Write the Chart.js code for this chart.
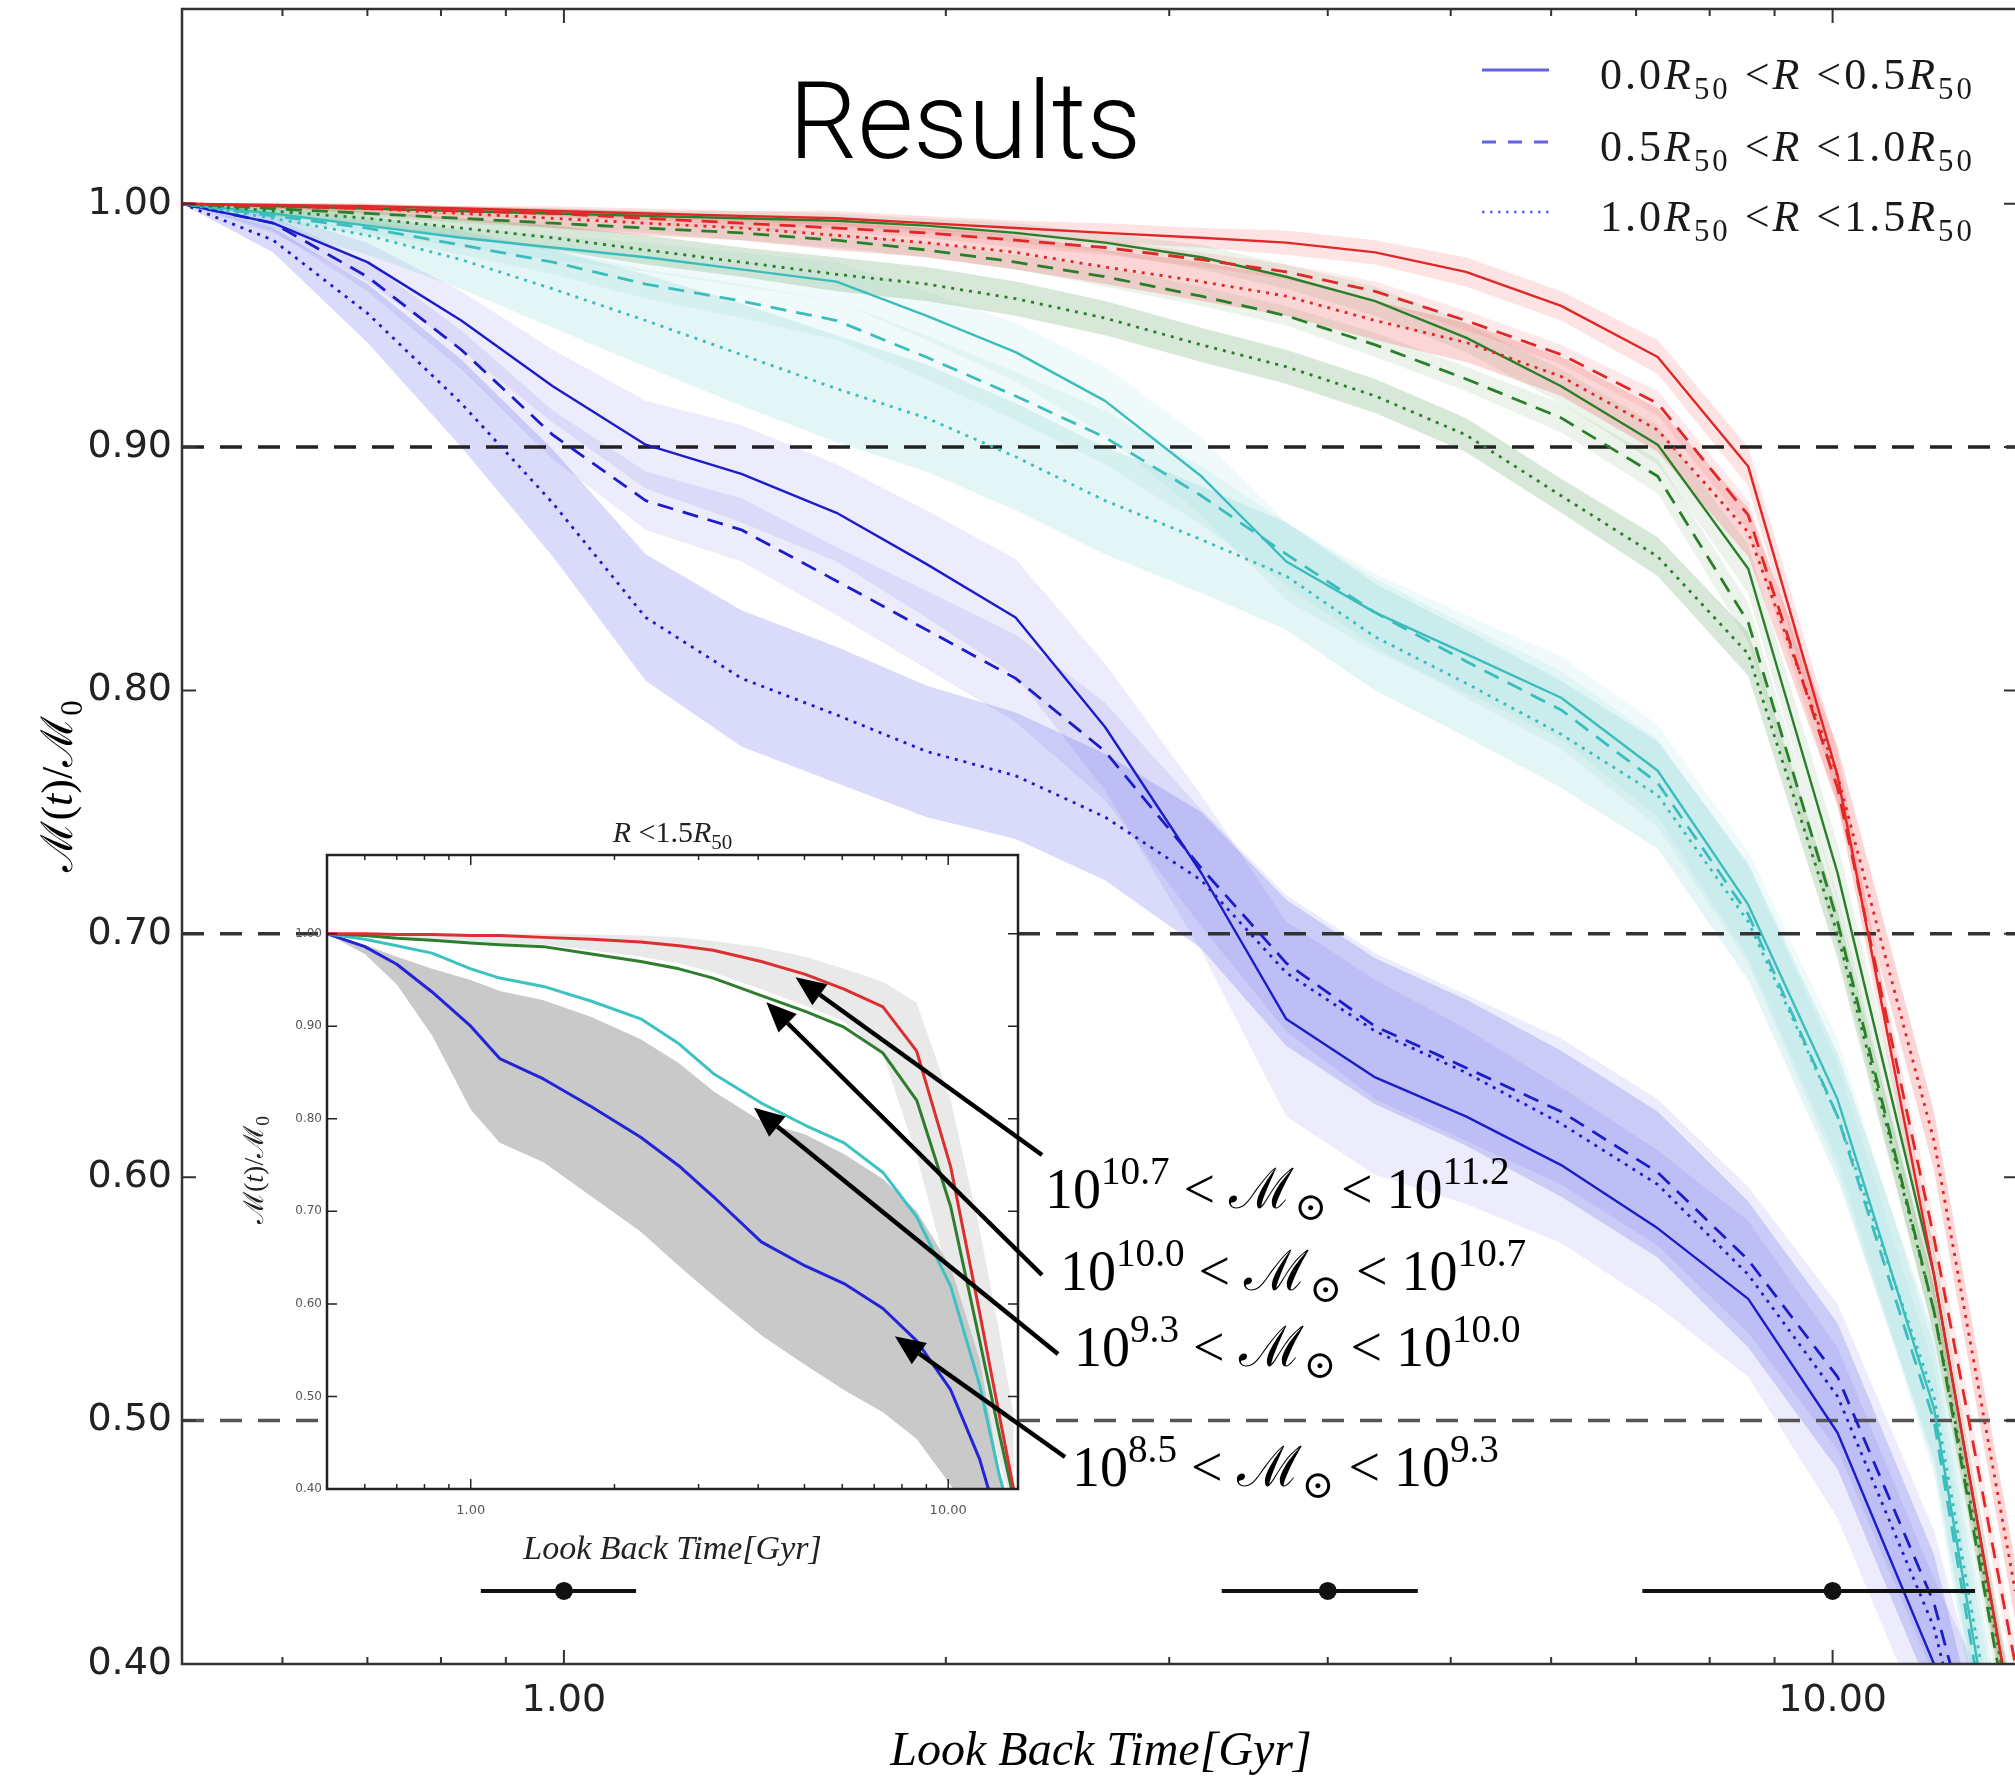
<!DOCTYPE html>
<html lang="en">
<head>
<meta charset="utf-8">
<title>Stellar mass growth with look back time</title>
<script src="https://cdn.jsdelivr.net/npm/chart.js@4.4.1/dist/chart.umd.min.js"></script>
<style>
  html, body { margin: 0; padding: 0; background: #fff; overflow: hidden; }
  #wrap { position: relative; width: 2015px; height: 1780px; overflow: hidden; }
  #main { position: absolute; left: 0; top: 0; }
  #inset { position: absolute; left: 200px; top: 800px; }
</style>
</head>
<body>
<div id="wrap">
  <canvas id="main" width="2040" height="1780"></canvas>
  <canvas id="inset" width="900" height="790"></canvas>
</div>
<script>
const SERIF = "'Liberation Serif', 'DejaVu Serif', serif";
const SANS = "'DejaVu Sans', sans-serif";

// Look back time grid (Gyr) for the main panel
const lookbackTime = [0.50, 0.59, 0.70, 0.83, 0.98, 1.16, 1.38, 1.64, 1.93, 2.27, 2.67, 3.18, 3.71, 4.36, 5.14, 6.11, 7.28, 8.58, 10.09, 12.02, 13.93];

// M(t)/M0 per mass bin, three radial bins each (inner / middle / outer)
const blueInner = [1.000, 0.992, 0.976, 0.952, 0.925, 0.901, 0.889, 0.873, 0.852, 0.830, 0.785, 0.725, 0.665, 0.641, 0.625, 0.605, 0.579, 0.550, 0.495, 0.400, 0.330];
const blueMid   = [1.000, 0.992, 0.970, 0.940, 0.905, 0.878, 0.866, 0.845, 0.825, 0.805, 0.775, 0.727, 0.688, 0.662, 0.645, 0.627, 0.602, 0.566, 0.518, 0.425, 0.300];
const blueOuter = [1.000, 0.985, 0.955, 0.918, 0.877, 0.830, 0.805, 0.790, 0.775, 0.765, 0.748, 0.722, 0.684, 0.660, 0.643, 0.622, 0.597, 0.560, 0.510, 0.415, 0.280];

const cyanInner = [1.000, 0.996, 0.991, 0.986, 0.982, 0.978, 0.973, 0.968, 0.954, 0.939, 0.919, 0.888, 0.853, 0.832, 0.815, 0.797, 0.767, 0.712, 0.632, 0.505, 0.310];
const cyanMid   = [1.000, 0.995, 0.990, 0.983, 0.976, 0.967, 0.960, 0.952, 0.937, 0.921, 0.904, 0.880, 0.856, 0.832, 0.812, 0.792, 0.762, 0.708, 0.625, 0.500, 0.300];
const cyanOuter = [1.000, 0.994, 0.987, 0.977, 0.965, 0.952, 0.938, 0.924, 0.912, 0.896, 0.878, 0.862, 0.847, 0.822, 0.803, 0.782, 0.757, 0.705, 0.625, 0.510, 0.320];

const greenInner = [1.000, 0.999, 0.998, 0.997, 0.996, 0.995, 0.994, 0.993, 0.991, 0.988, 0.984, 0.978, 0.970, 0.960, 0.945, 0.925, 0.901, 0.850, 0.725, 0.560, 0.370];
const greenMid   = [1.000, 0.998, 0.996, 0.994, 0.992, 0.990, 0.988, 0.985, 0.981, 0.976, 0.970, 0.962, 0.954, 0.942, 0.928, 0.912, 0.888, 0.828, 0.705, 0.545, 0.360];
const greenOuter = [1.000, 0.997, 0.994, 0.990, 0.986, 0.981, 0.976, 0.971, 0.967, 0.961, 0.953, 0.942, 0.933, 0.921, 0.905, 0.880, 0.855, 0.815, 0.700, 0.545, 0.370];

const redInner = [1.000, 0.9995, 0.999, 0.998, 0.997, 0.996, 0.995, 0.994, 0.992, 0.990, 0.988, 0.986, 0.984, 0.980, 0.972, 0.958, 0.937, 0.892, 0.765, 0.560, 0.370];
const redMid   = [1.000, 0.999, 0.998, 0.997, 0.996, 0.994, 0.992, 0.990, 0.988, 0.985, 0.982, 0.977, 0.972, 0.964, 0.952, 0.938, 0.918, 0.872, 0.760, 0.575, 0.400];
const redOuter = [1.000, 0.999, 0.998, 0.996, 0.994, 0.992, 0.990, 0.987, 0.984, 0.980, 0.974, 0.968, 0.962, 0.952, 0.943, 0.929, 0.907, 0.865, 0.765, 0.615, 0.430];

// half widths of the shaded scatter around each curve
const blueInnerBand = [0, 0.004, 0.008, 0.012, 0.015, 0.018, 0.020, 0.020, 0.022, 0.024, 0.026, 0.032, 0.040, 0.040, 0.036, 0.032, 0.032, 0.032, 0.035, 0.035, 0.035];
const blueMidBand   = [0, 0.003, 0.006, 0.008, 0.010, 0.012, 0.013, 0.014, 0.016, 0.018, 0.020, 0.024, 0.028, 0.030, 0.030, 0.030, 0.030, 0.030, 0.030, 0.030, 0.030];
const blueOuterBand = [0, 0.005, 0.012, 0.018, 0.022, 0.026, 0.028, 0.028, 0.027, 0.026, 0.026, 0.028, 0.030, 0.030, 0.030, 0.030, 0.030, 0.030, 0.030, 0.030, 0.030];
const cyanInnerBand = [0, 0.002, 0.003, 0.004, 0.005, 0.006, 0.007, 0.008, 0.010, 0.012, 0.014, 0.016, 0.016, 0.016, 0.016, 0.017, 0.019, 0.022, 0.025, 0.025, 0.025];
const cyanMidBand   = [0, 0.002, 0.003, 0.004, 0.005, 0.006, 0.007, 0.008, 0.009, 0.010, 0.011, 0.012, 0.013, 0.014, 0.015, 0.016, 0.018, 0.020, 0.022, 0.022, 0.022];
const cyanOuterBand = [0, 0.004, 0.008, 0.012, 0.016, 0.019, 0.021, 0.022, 0.022, 0.022, 0.022, 0.022, 0.022, 0.022, 0.022, 0.022, 0.022, 0.024, 0.026, 0.026, 0.026];
const greenInnerBand = [0, 0.001, 0.001, 0.002, 0.002, 0.002, 0.003, 0.003, 0.003, 0.004, 0.004, 0.005, 0.005, 0.006, 0.006, 0.007, 0.008, 0.010, 0.012, 0.012, 0.012];
const greenMidBand   = [0, 0.001, 0.001, 0.002, 0.002, 0.002, 0.003, 0.003, 0.003, 0.003, 0.004, 0.004, 0.004, 0.005, 0.005, 0.006, 0.007, 0.008, 0.010, 0.010, 0.010];
const greenOuterBand = [0, 0.002, 0.003, 0.004, 0.005, 0.006, 0.006, 0.007, 0.007, 0.007, 0.007, 0.007, 0.007, 0.007, 0.007, 0.007, 0.008, 0.009, 0.010, 0.010, 0.010];
const redInnerBand = [0, 0.001, 0.001, 0.001, 0.002, 0.002, 0.002, 0.003, 0.003, 0.003, 0.004, 0.004, 0.005, 0.005, 0.006, 0.006, 0.007, 0.008, 0.010, 0.010, 0.010];
const redMidBand   = [0, 0.001, 0.001, 0.001, 0.001, 0.002, 0.002, 0.002, 0.002, 0.003, 0.003, 0.003, 0.003, 0.004, 0.004, 0.004, 0.005, 0.006, 0.008, 0.008, 0.008];
const redOuterBand = [0, 0.001, 0.002, 0.003, 0.004, 0.005, 0.005, 0.006, 0.006, 0.007, 0.007, 0.008, 0.008, 0.008, 0.008, 0.008, 0.009, 0.010, 0.012, 0.012, 0.012];

// horizontal reference levels and the time error bars along the bottom
const refLevels = [0.9, 0.7, 0.5];
const errTime = [1.0, 4.0, 10.0];
const errLow = [0.86, 3.30, 7.08];
const errHigh = [1.14, 4.71, 12.95];
const errLevel = 0.43;

// axis ticks
const xMajorTicks = [1, 10];
const xMinorTicks = [0.6, 0.7, 0.8, 0.9, 2, 3, 4, 5, 6, 7, 8, 9];
const yTicks = [0.4, 0.5, 0.6, 0.7, 0.8, 0.9, 1.0];

// bin edges used in the labels
const radialEdges = ['0.0', '0.5', '1.0', '1.5'];
const massEdges = ['8.5', '9.3', '10.0', '10.7', '11.2'];

// inset: all galaxies within 1.5 R50
const insetTime = [0.50, 0.60, 0.70, 0.83, 1.00, 1.15, 1.42, 1.79, 2.27, 2.73, 3.22, 4.06, 5.02, 6.05, 7.30, 8.59, 10.12, 11.64, 12.79, 13.71];
const insetBlue  = [1.000, 0.986, 0.967, 0.937, 0.900, 0.865, 0.843, 0.813, 0.780, 0.749, 0.716, 0.667, 0.641, 0.622, 0.595, 0.560, 0.507, 0.432, 0.360, 0.300];
const insetCyan  = [1.000, 0.994, 0.987, 0.979, 0.962, 0.952, 0.943, 0.927, 0.908, 0.881, 0.849, 0.817, 0.793, 0.774, 0.742, 0.694, 0.619, 0.512, 0.415, 0.360];
const insetGreen = [1.000, 0.998, 0.995, 0.993, 0.990, 0.988, 0.986, 0.978, 0.970, 0.962, 0.952, 0.933, 0.916, 0.899, 0.871, 0.820, 0.705, 0.560, 0.460, 0.390];
const insetRed   = [1.000, 1.000, 0.999, 0.999, 0.998, 0.998, 0.996, 0.994, 0.991, 0.987, 0.982, 0.970, 0.956, 0.940, 0.921, 0.873, 0.748, 0.590, 0.480, 0.400];
const insetGrayLow  = [1.000, 0.978, 0.945, 0.890, 0.810, 0.774, 0.753, 0.716, 0.678, 0.641, 0.609, 0.566, 0.534, 0.507, 0.483, 0.454, 0.404, 0.360, 0.350, 0.350];
const insetGrayHigh = [1.000, 0.988, 0.975, 0.962, 0.950, 0.938, 0.928, 0.910, 0.886, 0.860, 0.830, 0.797, 0.783, 0.762, 0.735, 0.700, 0.640, 0.540, 0.420, 0.360];
const insetPaleLow  = [1.000, 0.998, 0.996, 0.994, 0.992, 0.990, 0.988, 0.982, 0.975, 0.968, 0.958, 0.940, 0.922, 0.905, 0.870, 0.760, 0.620, 0.520, 0.430, 0.380];
const insetPaleHigh = [1.000, 1.000, 1.000, 1.000, 1.000, 1.000, 1.000, 0.999, 0.998, 0.996, 0.992, 0.985, 0.975, 0.962, 0.948, 0.925, 0.820, 0.680, 0.570, 0.480];

// where the annotation arrows point on the inset curves
const arrowTipTime = [4.79, 4.16, 3.92, 7.73];
const arrowTipValue = [0.953, 0.926, 0.812, 0.565];

// page positions of the free text
const layout = {
  insetLeft: 200, insetTop: 800,
  labelAnchors: [[1045, 1208], [1060, 1290], [1074, 1366], [1072, 1486]],
  arrowTails: [[1042, 1155], [1042, 1275], [1058, 1354], [1065, 1457]],
};

const radialStyles = [
  { dash: [], width: 2.4 },
  { dash: [16, 10], width: 2.8 },
  { dash: [3, 6], width: 2.8 },
];

const massBins = [
  { line: '#1c1cc8', band: '70, 70, 230', alpha: [0.10, 0.10, 0.20],
    values: [blueInner, blueMid, blueOuter], spread: [blueInnerBand, blueMidBand, blueOuterBand] },
  { line: '#3cbdbd', band: '70, 190, 185', alpha: [0.08, 0.08, 0.15],
    values: [cyanInner, cyanMid, cyanOuter], spread: [cyanInnerBand, cyanMidBand, cyanOuterBand] },
  { line: '#2a7f2a', band: '60, 140, 60', alpha: [0.10, 0.10, 0.20],
    values: [greenInner, greenMid, greenOuter], spread: [greenInnerBand, greenMidBand, greenOuterBand] },
  { line: '#e02828', band: '240, 70, 70', alpha: [0.15, 0.12, 0.22],
    values: [redInner, redMid, redOuter], spread: [redInnerBand, redMidBand, redOuterBand] },
];

const points = (xs, ys) => xs.map((t, i) => ({ x: t, y: ys[i] }));

// Build the main datasets: bands underneath, then reference lines, curves, error bars
const mainDatasets = [];
function addBand(list, xs, lo, hi, color, order) {
  const upperIndex = list.length;
  list.push({ data: points(xs, hi), borderWidth: 0, borderColor: 'rgba(0,0,0,0)', pointRadius: 0, fill: false, order });
  list.push({ data: points(xs, lo), borderWidth: 0, borderColor: 'rgba(0,0,0,0)', pointRadius: 0,
              fill: upperIndex, backgroundColor: color, order });
}

massBins.forEach((bin, k) => {
  bin.values.forEach((vals, r) => {
    const lo = vals.map((v, i) => v - bin.spread[r][i]);
    const hi = vals.map((v, i) => v + bin.spread[r][i]);
    addBand(mainDatasets, lookbackTime, lo, hi, `rgba(${bin.band}, ${bin.alpha[r]})`, 40 - k);
  });
});

const refColors = ['#222', '#333', '#555'];
refLevels.forEach((lvl, i) => {
  mainDatasets.push({
    data: [{ x: 0.5, y: lvl }, { x: 14, y: lvl }],
    borderColor: refColors[i], borderWidth: 3.5, borderDash: [22, 16],
    pointRadius: 0, fill: false, order: 20,
  });
});

massBins.forEach((bin, k) => {
  bin.values.forEach((vals, r) => {
    mainDatasets.push({
      data: points(lookbackTime, vals),
      borderColor: bin.line, borderWidth: radialStyles[r].width, borderDash: radialStyles[r].dash,
      borderJoinStyle: 'round', pointRadius: 0, fill: false, tension: 0, order: 10 - k,
    });
  });
});

errTime.forEach((t, i) => {
  mainDatasets.push({
    data: [{ x: errLow[i], y: errLevel }, { x: errHigh[i], y: errLevel }],
    borderColor: '#111', borderWidth: 4, pointRadius: 0, fill: false, order: 0,
  });
});
mainDatasets.push({
  data: errTime.map(t => ({ x: t, y: errLevel })),
  showLine: false, pointRadius: 9, pointBackgroundColor: '#111', pointBorderWidth: 0, order: 0,
});

// Inset datasets
const insetDatasets = [];
addBand(insetDatasets, insetTime, insetPaleLow, insetPaleHigh, '#e9e9e9', 6);
addBand(insetDatasets, insetTime, insetGrayLow, insetGrayHigh, '#c9c9c9', 5);
[[insetBlue, '#2323d8'], [insetCyan, '#3cc2c2'], [insetGreen, '#2e7d2e'], [insetRed, '#dc3030']].forEach(([vals, color], k) => {
  insetDatasets.push({
    data: points(insetTime, vals), borderColor: color, borderWidth: 3,
    borderJoinStyle: 'round', pointRadius: 0, fill: false, tension: 0, order: 4 - k,
  });
});

// ---- drawing helpers ----
function drawRich(ctx, parts, x, y, size, family, align) {
  const fontFor = kind => {
    const s = (kind === 'sub' || kind === 'sup') ? size * 0.7 : size;
    return (kind === 'i' ? 'italic ' : '') + s + 'px ' + family;
  };
  let total = 0;
  parts.forEach(([text, kind]) => { ctx.font = fontFor(kind); total += ctx.measureText(text).width; });
  let cx = align === 'center' ? x - total / 2 : x;
  ctx.textAlign = 'left';
  parts.forEach(([text, kind]) => {
    ctx.font = fontFor(kind);
    const dy = kind === 'sub' ? size * 0.22 : kind === 'sup' ? -size * 0.42 : 0;
    ctx.fillText(text, cx, y + dy);
    cx += ctx.measureText(text).width;
  });
}

function drawArrow(ctx, x0, y0, x1, y1, width, head, headW) {
  const ang = Math.atan2(y1 - y0, x1 - x0);
  const bx = x1 - head * Math.cos(ang), by = y1 - head * Math.sin(ang);
  ctx.lineWidth = width;
  ctx.beginPath(); ctx.moveTo(x0, y0); ctx.lineTo(bx, by); ctx.stroke();
  ctx.beginPath();
  ctx.moveTo(x1, y1);
  ctx.lineTo(bx + headW / 2 * Math.sin(ang), by - headW / 2 * Math.cos(ang));
  ctx.lineTo(bx - headW / 2 * Math.sin(ang), by + headW / 2 * Math.cos(ang));
  ctx.closePath(); ctx.fill();
}

const radialLabel = i => [[radialEdges[i], ''], ['R', 'i'], ['50', 'sub'], [' <', ''], ['R', 'i'],
  [' <' + radialEdges[i + 1], ''], ['R', 'i'], ['50', 'sub']];
const massLabel = i => [['10', ''], [massEdges[i], 'sup'], [' < ', ''], ['ℳ', ''], ['⊙', 'sub'],
  [' < 10', ''], [massEdges[i + 1], 'sup']];
const massRatio = [['ℳ', ''], ['(', ''], ['t', 'i'], [')/', ''], ['ℳ', ''], ['0', 'sub']];

// Frame on all four sides with inward ticks
const frameAndTicks = {
  id: 'frameAndTicks',
  afterDatasetsDraw(chart, args, opts) {
    const { ctx, chartArea: a, scales: { x, y } } = chart;
    ctx.save();
    ctx.strokeStyle = opts.color;
    ctx.lineWidth = opts.tickWidth;
    ctx.beginPath();
    const xTick = (v, len) => {
      const px = x.getPixelForValue(v);
      ctx.moveTo(px, a.bottom); ctx.lineTo(px, a.bottom - len);
      ctx.moveTo(px, a.top); ctx.lineTo(px, a.top + len);
    };
    xMajorTicks.forEach(v => xTick(v, opts.major));
    xMinorTicks.forEach(v => xTick(v, opts.minor));
    yTicks.forEach(v => {
      const py = y.getPixelForValue(v);
      ctx.moveTo(a.left, py); ctx.lineTo(a.left + opts.major, py);
      ctx.moveTo(a.right, py); ctx.lineTo(a.right - opts.major, py);
    });
    ctx.stroke();
    ctx.lineWidth = opts.frameWidth;
    ctx.strokeRect(a.left, a.top, a.right - a.left, a.bottom - a.top);
    ctx.restore();
  }
};

// Title, legend, axis titles and the mass bin labels of the main panel
const mainText = {
  id: 'mainText',
  afterDraw(chart) {
    const { ctx } = chart;
    ctx.save();
    ctx.fillStyle = '#000';
    ctx.textBaseline = 'alphabetic';

    ctx.font = "300 108px Roboto, 'Liberation Sans', sans-serif";
    ctx.textAlign = 'center';
    ctx.fillText('Results', 965, 158);

    // legend for the radial bins
    const rows = [70, 142, 212];
    rows.forEach((ly, i) => {
      ctx.strokeStyle = 'rgba(70, 70, 215, 0.85)';
      ctx.lineWidth = i === 2 ? 2.5 : 3;
      ctx.setLineDash(i === 0 ? [] : i === 1 ? [14, 12] : [2.5, 5.5]);
      ctx.beginPath(); ctx.moveTo(1482, ly); ctx.lineTo(1549, ly); ctx.stroke();
      ctx.setLineDash([]);
      ctx.fillStyle = '#1a1a1a';
      ctx.letterSpacing = '3px';
      drawRich(ctx, radialLabel(i), 1600, ly + 19, 44, SERIF, 'left');
      ctx.letterSpacing = '0px';
    });

    // mass bin labels next to the inset
    ctx.fillStyle = '#000';
    layout.labelAnchors.forEach(([lx, ly], i) => {
      drawRich(ctx, massLabel(3 - i), lx, ly, 56, SERIF, 'left');
    });

    // axis titles
    ctx.font = 'italic 48px ' + SERIF;
    ctx.textAlign = 'center';
    ctx.fillText('Look Back Time[Gyr]', 1101, 1765);
    ctx.translate(58, 786);
    ctx.rotate(-Math.PI / 2);
    drawRich(ctx, massRatio, 0, 14, 44, SERIF, 'center');
    ctx.restore();
  }
};

const insetBackground = {
  id: 'insetBackground',
  beforeDatasetsDraw(chart) {
    const { ctx, chartArea: a } = chart;
    ctx.save();
    ctx.fillStyle = '#fff';
    ctx.fillRect(a.left, a.top, a.right - a.left, a.bottom - a.top);
    ctx.restore();
  }
};

const insetText = {
  id: 'insetText',
  afterDraw(chart) {
    const { ctx, chartArea: a, scales: { x, y } } = chart;
    const cx = (a.left + a.right) / 2;
    ctx.save();
    ctx.fillStyle = '#222';
    ctx.textBaseline = 'alphabetic';
    drawRich(ctx, [['R', 'i'], [' <1.5', ''], ['R', 'i'], ['50', 'sub']], cx, a.top - 13, 30, SERIF, 'center');
    ctx.font = 'italic 34px ' + SERIF;
    ctx.textAlign = 'center';
    ctx.fillText('Look Back Time[Gyr]', cx, 759);

    // arrows from the mass labels to the curves
    ctx.fillStyle = '#000';
    ctx.strokeStyle = '#000';
    arrowTipTime.forEach((t, i) => {
      const tx = x.getPixelForValue(t), ty = y.getPixelForValue(arrowTipValue[i]);
      const [px, py] = layout.arrowTails[i];
      drawArrow(ctx, px - layout.insetLeft, py - layout.insetTop, tx, ty, 4.5, 30, 26);
    });

    ctx.fillStyle = '#222';
    ctx.translate(53, 370);
    ctx.rotate(-Math.PI / 2);
    drawRich(ctx, massRatio, 0, 10, 28, SERIF, 'center');
    ctx.restore();
  }
};

// no extra room for edge labels: the plot area is set by the layout padding alone
const noScalePadding = s => { s.paddingTop = 0; s.paddingBottom = 0; s.paddingLeft = 0; s.paddingRight = 0; };

function axisOptions(cfg) {
  return {
    x: {
      type: 'logarithmic', min: 0.5, max: 14,
      grid: { display: false, drawTicks: false }, border: { display: false },
      afterBuildTicks: s => { s.ticks = xMajorTicks.map(v => ({ value: v })); },
      afterFit: s => { s.height = cfg.xHeight; noScalePadding(s); },
      ticks: { callback: v => Number(v).toFixed(2), autoSkip: false, maxRotation: 0,
               font: { family: SANS, size: cfg.xFont }, color: cfg.tickColor, padding: cfg.xPad },
    },
    y: {
      type: 'linear', min: 0.4, max: cfg.yMax,
      grid: { display: false, drawTicks: false }, border: { display: false },
      afterBuildTicks: s => { s.ticks = yTicks.map(v => ({ value: v })); },
      afterFit: s => { s.width = cfg.yWidth; noScalePadding(s); },
      ticks: { callback: v => Number(v).toFixed(2),
               font: { family: SANS, size: cfg.yFont }, color: cfg.tickColor, padding: cfg.yPad },
    },
  };
}

const mainChart = new Chart(document.getElementById('main'), {
  type: 'line',
  data: { datasets: mainDatasets },
  options: {
    responsive: false, animation: false, devicePixelRatio: 1,
    layout: { padding: { top: 6, right: 22, left: 0, bottom: 0 } },
    plugins: {
      legend: { display: false }, tooltip: { enabled: false },
      frameAndTicks: { color: '#333', tickWidth: 2, frameWidth: 2.5, major: 14, minor: 7 },
    },
    scales: axisOptions({ xHeight: 116, yWidth: 182, yMax: 1.08, xFont: 38, yFont: 38,
                          xPad: 14, yPad: 10, tickColor: '#222' }),
  },
  plugins: [frameAndTicks, mainText],
});

const insetChart = new Chart(document.getElementById('inset'), {
  type: 'line',
  data: { datasets: insetDatasets },
  options: {
    responsive: false, animation: false, devicePixelRatio: 1,
    layout: { padding: { top: 55, right: 82, left: 0, bottom: 0 } },
    plugins: {
      legend: { display: false }, tooltip: { enabled: false },
      frameAndTicks: { color: '#222', tickWidth: 1.5, frameWidth: 2.5, major: 10, minor: 5 },
    },
    scales: axisOptions({ xHeight: 101, yWidth: 127, yMax: 1.085, xFont: 13, yFont: 12,
                          xPad: 14, yPad: 5, tickColor: '#555' }),
  },
  plugins: [insetBackground, frameAndTicks, insetText],
});
</script>
</body>
</html>
